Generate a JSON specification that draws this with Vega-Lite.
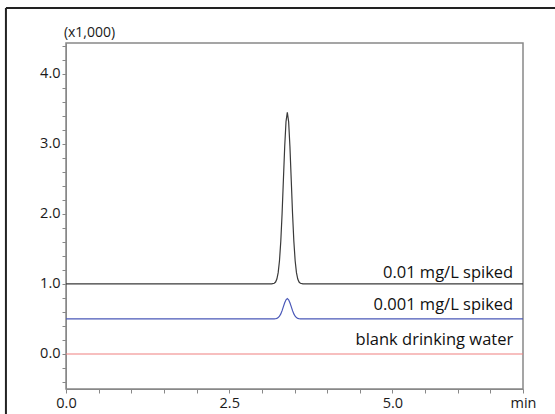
{
  "$schema": "https://vega.github.io/schema/vega-lite/v6.json",
  "width": 457,
  "height": 346,
  "autosize": {"type": "none"},
  "padding": {"left": 66, "top": 43, "right": 32, "bottom": 25},
  "background": "white",
  "config": {
    "font": "Open Sans",
    "view": {"stroke": "#888888", "strokeWidth": 1.5},
    "axis": {
      "grid": false,
      "domainColor": "#888888",
      "tickColor": "#888888",
      "labelFont": "Open Sans",
      "labelFontSize": 14.5,
      "labelColor": "#1a1a1a",
      "titleFont": "Open Sans",
      "titleFontSize": 14,
      "titleFontWeight": "normal",
      "titleColor": "#1a1a1a",
      "tickSize": 4,
      "labelOverlap": false
    }
  },
  "datasets": {
    "traces": [
      {"series": "a", "t": 0, "v": 1.0},
      {"series": "a", "t": 3.15, "v": 1.0},
      {"series": "a", "t": 3.19, "v": 1.01},
      {"series": "a", "t": 3.21, "v": 1.027},
      {"series": "a", "t": 3.23, "v": 1.07},
      {"series": "a", "t": 3.25, "v": 1.161},
      {"series": "a", "t": 3.27, "v": 1.331},
      {"series": "a", "t": 3.29, "v": 1.61},
      {"series": "a", "t": 3.31, "v": 2.007},
      {"series": "a", "t": 3.33, "v": 2.487},
      {"series": "a", "t": 3.35, "v": 2.962},
      {"series": "a", "t": 3.37, "v": 3.318},
      {"series": "a", "t": 3.39, "v": 3.45},
      {"series": "a", "t": 3.41, "v": 3.318},
      {"series": "a", "t": 3.43, "v": 2.962},
      {"series": "a", "t": 3.45, "v": 2.487},
      {"series": "a", "t": 3.47, "v": 2.007},
      {"series": "a", "t": 3.49, "v": 1.61},
      {"series": "a", "t": 3.51, "v": 1.331},
      {"series": "a", "t": 3.53, "v": 1.161},
      {"series": "a", "t": 3.55, "v": 1.07},
      {"series": "a", "t": 3.57, "v": 1.027},
      {"series": "a", "t": 3.59, "v": 1.01},
      {"series": "a", "t": 3.63, "v": 1.0},
      {"series": "a", "t": 7, "v": 1.0},
      {"series": "b", "t": 0, "v": 0.5},
      {"series": "b", "t": 3.15, "v": 0.5},
      {"series": "b", "t": 3.19, "v": 0.501},
      {"series": "b", "t": 3.21, "v": 0.503},
      {"series": "b", "t": 3.23, "v": 0.508},
      {"series": "b", "t": 3.25, "v": 0.519},
      {"series": "b", "t": 3.27, "v": 0.539},
      {"series": "b", "t": 3.29, "v": 0.572},
      {"series": "b", "t": 3.31, "v": 0.619},
      {"series": "b", "t": 3.33, "v": 0.676},
      {"series": "b", "t": 3.35, "v": 0.732},
      {"series": "b", "t": 3.37, "v": 0.774},
      {"series": "b", "t": 3.39, "v": 0.79},
      {"series": "b", "t": 3.41, "v": 0.774},
      {"series": "b", "t": 3.43, "v": 0.732},
      {"series": "b", "t": 3.45, "v": 0.676},
      {"series": "b", "t": 3.47, "v": 0.619},
      {"series": "b", "t": 3.49, "v": 0.572},
      {"series": "b", "t": 3.51, "v": 0.539},
      {"series": "b", "t": 3.53, "v": 0.519},
      {"series": "b", "t": 3.55, "v": 0.508},
      {"series": "b", "t": 3.57, "v": 0.503},
      {"series": "b", "t": 3.59, "v": 0.501},
      {"series": "b", "t": 3.63, "v": 0.5},
      {"series": "b", "t": 7, "v": 0.5},
      {"series": "c", "t": 0, "v": 0.0},
      {"series": "c", "t": 7, "v": 0.0}
    ],
    "labels": [
      {"t": 6.85, "v": 1.09, "label": "0.01 mg/L spiked"},
      {"t": 6.85, "v": 0.63, "label": "0.001 mg/L spiked"},
      {"t": 6.85, "v": 0.13, "label": "blank drinking water"}
    ],
    "frame": [
      {"x1": -0.92, "x2": 7.6, "y1": 4.94, "y2": 4.94},
      {"x1": -0.92, "x2": -0.92, "y1": 4.94, "y2": -1.2}
    ]
  },
  "layer": [
    {
      "data": {"name": "traces"},
      "mark": {"type": "line", "clip": true},
      "encoding": {
        "x": {
          "field": "t", "type": "quantitative",
          "scale": {"domain": [0, 7], "nice": false, "zero": false},
          "axis": {
            "title": null,
            "values": [0, 0.5, 1, 1.5, 2, 2.5, 3, 3.5, 4, 4.5, 5, 5.5, 6, 6.5, 7],
            "tickCount": 100,
            "labelExpr": "datum.value == 7 ? 'min' : (datum.value == 0 || datum.value == 2.5 || datum.value == 5) ? format(datum.value, '.1f') : ''",
            "labelPadding": 3,
            "labelFlush": false,
            "labelOverlap": false
          }
        },
        "y": {
          "field": "v", "type": "quantitative",
          "scale": {"domain": [-0.5, 4.44], "nice": false, "zero": false},
          "axis": {
            "title": "(x1,000)",
            "titleAngle": 0,
            "titleX": 23,
            "titleY": -11,
            "titleAlign": "center",
            "titleBaseline": "middle",
            "values": [-0.4, -0.2, 0, 0.2, 0.4, 0.6, 0.8, 1, 1.2, 1.4, 1.6, 1.8, 2, 2.2, 2.4, 2.6, 2.8, 3, 3.2, 3.4, 3.6, 3.8, 4, 4.2, 4.4],
            "tickCount": 100,
            "labelExpr": "(abs(datum.value - round(datum.value)) < 0.001) ? format(datum.value, '.1f') : ''",
            "labelPadding": 2,
            "labelOverlap": false
          }
        },
        "color": {
          "field": "series", "type": "nominal",
          "scale": {"domain": ["a", "b", "c"], "range": ["#3a3a3a", "#4a58b8", "#f08080"]},
          "legend": null
        },
        "strokeWidth": {
          "field": "series", "type": "nominal",
          "scale": {"domain": ["a", "b", "c"], "range": [1.2, 1.2, 1.6]},
          "legend": null
        }
      }
    },
    {
      "data": {"name": "labels"},
      "mark": {"type": "text", "align": "right", "baseline": "alphabetic", "font": "Open Sans", "fontSize": 16.5, "color": "#111111"},
      "encoding": {
        "x": {"field": "t", "type": "quantitative"},
        "y": {"field": "v", "type": "quantitative"},
        "text": {"field": "label"}
      }
    },
    {
      "data": {"name": "frame"},
      "mark": {"type": "rule", "clip": false, "color": "#222222", "strokeWidth": 2},
      "encoding": {
        "x": {"field": "x1", "type": "quantitative"},
        "x2": {"field": "x2"},
        "y": {"field": "y1", "type": "quantitative"},
        "y2": {"field": "y2"}
      }
    }
  ]
}
